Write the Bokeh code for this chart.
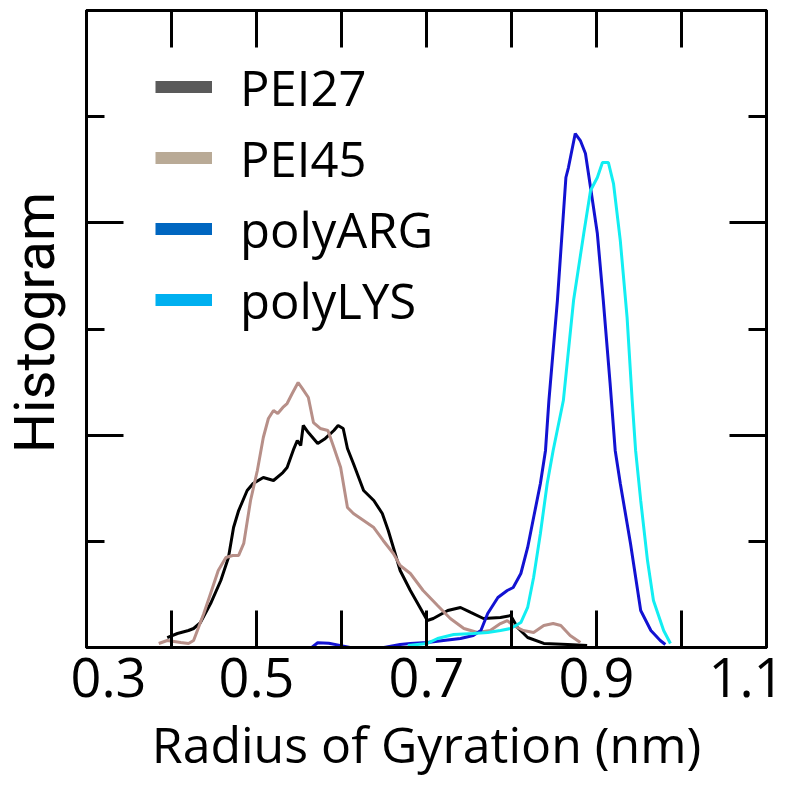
import math
from bokeh.plotting import figure
from bokeh.layouts import row
from bokeh.models import Range1d, FixedTicker, LinearAxis, Legend, LegendItem, Label
from bokeh.embed import file_html
from bokeh.resources import INLINE

# ---------------- data ----------------
pei27_x = [0.395, 0.407, 0.420, 0.426, 0.434, 0.446, 0.458, 0.467, 0.473, 0.479, 0.489, 0.496,
           0.508, 0.520, 0.531, 0.536, 0.544, 0.548, 0.552, 0.555, 0.561, 0.572, 0.581, 0.591,
           0.596, 0.602, 0.607, 0.614, 0.626, 0.638, 0.648, 0.655, 0.661, 0.669, 0.681, 0.701,
           0.708, 0.725, 0.740, 0.752, 0.767, 0.787, 0.799, 0.807, 0.819, 0.838, 0.866, 0.889]
pei27_y = [0.094, 0.132, 0.160, 0.179, 0.235, 0.414, 0.631, 0.848, 1.130, 1.290, 1.479, 1.545,
           1.601, 1.573, 1.648, 1.695, 1.874, 1.950, 1.903, 2.091, 2.025, 1.921, 1.969, 2.044,
           2.091, 2.063, 1.874, 1.733, 1.479, 1.385, 1.262, 1.102, 0.942, 0.725, 0.537, 0.254,
           0.273, 0.348, 0.377, 0.330, 0.273, 0.283, 0.301, 0.188, 0.094, 0.038, 0.028, 0.019]

pei45_x = [0.385, 0.395, 0.411, 0.420, 0.426, 0.438, 0.446, 0.455, 0.464, 0.472, 0.479, 0.485,
           0.493, 0.501, 0.508, 0.514, 0.520, 0.525, 0.531, 0.536, 0.542, 0.549, 0.554, 0.561,
           0.567, 0.575, 0.584, 0.591, 0.599, 0.607, 0.614, 0.626, 0.638, 0.649, 0.661, 0.669,
           0.681, 0.696, 0.713, 0.728, 0.744, 0.760, 0.775, 0.787, 0.795, 0.802, 0.814, 0.826,
           0.838, 0.849, 0.858, 0.869, 0.881]
pei45_y = [0.038, 0.066, 0.047, 0.038, 0.066, 0.320, 0.509, 0.725, 0.848, 0.867, 0.867, 0.980,
           1.385, 1.667, 1.978, 2.157, 2.232, 2.204, 2.261, 2.298, 2.392, 2.496, 2.439, 2.355,
           2.119, 2.063, 2.044, 1.884, 1.695, 1.319, 1.262, 1.196, 1.130, 1.008, 0.885, 0.772,
           0.697, 0.537, 0.396, 0.273, 0.179, 0.141, 0.160, 0.226, 0.254, 0.207, 0.160, 0.141,
           0.207, 0.226, 0.207, 0.113, 0.047]

polyarg_x = [0.565, 0.572, 0.585, 0.598, 0.610, 0.650, 0.669, 0.681, 0.701, 0.720, 0.740, 0.755,
             0.764, 0.772, 0.784, 0.795, 0.802, 0.811, 0.819, 0.826, 0.834, 0.840, 0.844, 0.854,
             0.864, 0.867, 0.875, 0.881, 0.887, 0.893, 0.901, 0.908, 0.916, 0.922, 0.928, 0.940,
             0.952, 0.964, 0.975, 0.981]
polyarg_y = [0.000, 0.045, 0.040, 0.020, 0.000, 0.000, 0.028, 0.038, 0.047, 0.066, 0.085, 0.113,
             0.160, 0.320, 0.471, 0.537, 0.565, 0.697, 0.942, 1.224, 1.545, 1.856, 2.326, 3.268,
             4.427, 4.521, 4.841, 4.775, 4.653, 4.333, 3.899, 3.268, 2.487, 1.856, 1.545, 0.980,
             0.348, 0.160, 0.066, 0.028]

polylys_x = [0.678, 0.701, 0.713, 0.732, 0.755, 0.772, 0.787, 0.799, 0.811, 0.819, 0.826, 0.834,
             0.842, 0.849, 0.861, 0.873, 0.885, 0.893, 0.901, 0.907, 0.914, 0.920, 0.928, 0.936,
             0.942, 0.946, 0.952, 0.960, 0.967, 0.979, 0.987]
polylys_y = [0.019, 0.038, 0.085, 0.122, 0.132, 0.141, 0.160, 0.179, 0.235, 0.377, 0.659, 1.074,
             1.545, 1.856, 2.326, 3.268, 3.899, 4.304, 4.427, 4.568, 4.568, 4.370, 3.833, 3.108,
             2.326, 1.856, 1.385, 0.819, 0.443, 0.160, 0.038]

series_names = ["PEI27", "PEI45", "polyARG", "polyLYS"]
line_colors = ["#000000", "#b78f88", "#1212d2", "#12eef2"]
legend_colors = ["#5a5a5a", "#b9aa96", "#0066c0", "#00b0f0"]

x_major_ticks = [0.3, 0.5, 0.7, 0.9, 1.1]
x_minor_ticks = [0.4, 0.6, 0.8, 1.0]
y_major_ticks = [0, 2, 4, 6]
y_minor_ticks = [1, 3, 5]

x_label = "Radius of Gyration (nm)"
y_label = "Histogram"

FONT = "Open Sans"
TOTAL_W, TOTAL_H = 784, 781
LABEL_W = 70  # narrow strip on the left that carries the vertical axis title

# ---------------- main figure ----------------
p = figure(width=TOTAL_W - LABEL_W, height=TOTAL_H, output_backend="svg", toolbar_location=None,
           x_range=Range1d(0.3, 1.1), y_range=Range1d(0, 6),
           min_border_left=86 - LABEL_W, min_border_right=18, min_border_top=10,
           min_border_bottom=134)
p.background_fill_color = "white"
p.border_fill_color = "white"
p.outline_line_color = "black"
p.outline_line_width = 3
p.xgrid.visible = False
p.ygrid.visible = False

p.add_layout(LinearAxis(), "above")
p.add_layout(LinearAxis(), "right")


def style_axis(ax, major, minor, major_len, minor_len, show_labels):
    ax.ticker = FixedTicker(ticks=major, minor_ticks=minor)
    ax.major_tick_in = major_len
    ax.major_tick_out = 0
    ax.minor_tick_in = minor_len
    ax.minor_tick_out = 0
    ax.major_tick_line_width = 3
    ax.minor_tick_line_width = 3
    ax.major_tick_line_color = "black"
    ax.minor_tick_line_color = "black"
    ax.axis_line_color = "black"
    ax.axis_line_width = 3
    if show_labels:
        ax.major_label_text_font = FONT
        ax.major_label_text_font_size = "54px"
        ax.major_label_text_color = "black"
        ax.major_label_standoff = 10
    else:
        ax.major_label_overrides = {t: "" for t in major}
        ax.major_label_text_font_size = "0px"
        ax.major_label_standoff = 0


style_axis(p.below[0], x_major_ticks, x_minor_ticks, 37, 37, True)
style_axis(p.above[0], x_major_ticks, x_minor_ticks, 37, 37, False)
style_axis(p.left[0], y_major_ticks, y_minor_ticks, 37, 18, False)
style_axis(p.right[0], y_major_ticks, y_minor_ticks, 37, 18, False)

xa = p.below[0]
xa.axis_label = x_label
xa.axis_label_text_font = FONT
xa.axis_label_text_font_size = "50px"
xa.axis_label_text_font_style = "normal"
xa.axis_label_text_color = "black"
xa.axis_label_standoff = 10

# data lines
xs = [pei27_x, pei45_x, polyarg_x, polylys_x]
ys = [pei27_y, pei45_y, polyarg_y, polylys_y]
for x, y, c in zip(xs, ys, line_colors):
    p.line(x=x, y=y, line_color=c, line_width=3)

# legend swatches use their own colours, as in the reference
# (one-point lines: they draw nothing in the plot, only in the legend)
items = []
for name, c, x, y in zip(series_names, legend_colors, xs, ys):
    r = p.line(x=x[:1], y=y[:1], line_color=c, line_width=12)
    items.append(LegendItem(label=name, renderers=[r]))

legend = Legend(items=items, location=(69, 312), orientation="vertical",
                glyph_width=57, glyph_height=71, label_height=71, spacing=0,
                padding=0, margin=0, label_standoff=28,
                label_text_font=FONT, label_text_font_size="49px",
                label_text_color="black",
                border_line_color=None, background_fill_alpha=0)
p.add_layout(legend)

# ---------------- left strip with the vertical axis title ----------------
# (its frame is aligned with the main frame by the row layout: y is measured
#  up from the common frame bottom)
lab = figure(width=LABEL_W, height=TOTAL_H, output_backend="svg", toolbar_location=None,
             x_range=Range1d(0, 1), y_range=Range1d(0, 1),
             x_axis_type=None, y_axis_type=None,
             min_border_left=0, min_border_right=0, min_border_top=0, min_border_bottom=0)
lab.outline_line_color = None
lab.background_fill_color = "white"
lab.border_fill_color = "white"
lab.add_layout(Label(x=34, y=325, x_units="screen", y_units="screen",
                     text=y_label, angle=math.pi / 2,
                     text_align="center", text_baseline="middle",
                     text_font="Roboto", text_font_size="56px", text_color="black"))

layout = row(lab, p, spacing=0)
open("out.html", "w").write(file_html(layout, INLINE))
